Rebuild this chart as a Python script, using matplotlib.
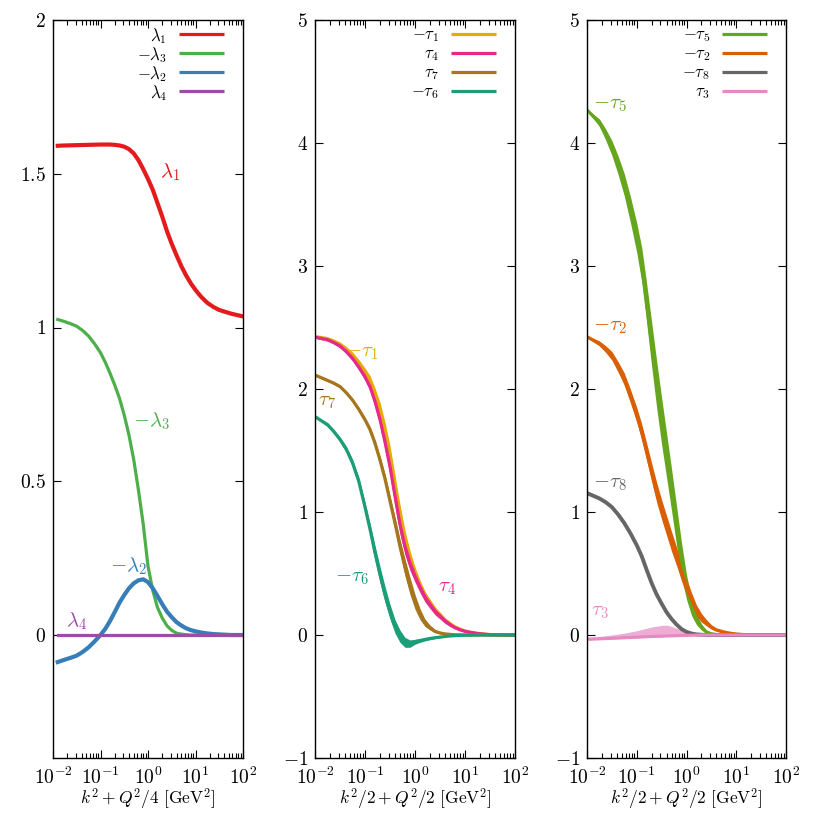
import matplotlib
matplotlib.use("Agg")
import matplotlib.pyplot as plt
import numpy as np
from matplotlib.ticker import FuncFormatter, LogLocator, NullFormatter

plt.rcParams['mathtext.fontset'] = 'cm'
plt.rcParams['font.family'] = 'serif'
plt.rcParams['font.serif'] = ['cmr10', 'DejaVu Serif']
plt.rcParams['axes.formatter.use_mathtext'] = True

# x-Gitter (GeV^2), 34 Punkte
x1 = [0.0126, 0.0178, 0.0237, 0.0316, 0.0422, 0.0562, 0.075, 0.1,
      0.126, 0.158, 0.2, 0.251, 0.316, 0.398, 0.501, 0.631, 0.794, 1.0,
      1.26, 1.58, 2.0, 2.51, 3.16, 3.98,
      5.01, 6.31, 7.94, 10, 13.3, 17.8, 23.7, 31.6, 56.2, 100]
x23 = [0.0105] + x1[1:]

# Panel 1: lambda_i
lam1 = [1.591, 1.592, 1.5925, 1.593, 1.5935, 1.594, 1.5945, 1.595,
        1.595, 1.595, 1.594, 1.592, 1.588, 1.58, 1.566, 1.544, 1.515, 1.483,
        1.448, 1.405, 1.36, 1.313, 1.272, 1.235,
        1.2, 1.17, 1.144, 1.122, 1.099, 1.08, 1.067, 1.057, 1.045, 1.036]
lam3 = [1.026, 1.019, 1.012, 1.004, 0.99, 0.972, 0.947, 0.918,
        0.887, 0.852, 0.812, 0.77, 0.715, 0.65, 0.57, 0.47, 0.36, 0.224,
        0.145, 0.09, 0.055, 0.03, 0.015, 0.006,
        0.003, 0.001, 0, 0, 0, 0, 0, 0, 0, 0]
lam2 = [-0.088, -0.08, -0.074, -0.067, -0.055, -0.04, -0.021, 0.0,
        0.02, 0.045, 0.075, 0.105, 0.13, 0.152, 0.168, 0.178, 0.181, 0.172,
        0.152, 0.127, 0.1, 0.076, 0.058, 0.042,
        0.031, 0.022, 0.016, 0.012, 0.008, 0.005, 0.003, 0.002, 0, 0]
lam4 = [0] * 34

# Panel 2: Bandmitte und halbe Breite
tau4 = [2.42, 2.40, 2.378, 2.35, 2.305, 2.25, 2.18, 2.10,
        2.02, 1.90, 1.75, 1.57, 1.37, 1.13, 0.90, 0.72, 0.585, 0.48,
        0.39, 0.31, 0.25, 0.195, 0.155, 0.115,
        0.085, 0.06, 0.043, 0.03, 0.02, 0.012, 0.007, 0.003, 0, 0]
tau4_w = [0.01, 0.01, 0.012, 0.015, 0.018, 0.02, 0.025, 0.03,
          0.035, 0.04, 0.05, 0.06, 0.07, 0.08, 0.08, 0.07, 0.06, 0.05,
          0.045, 0.04, 0.035, 0.03, 0.025, 0.02,
          0.016, 0.012, 0.009, 0.006, 0.004, 0.003, 0.002, 0.001, 0, 0]
tau1 = [2.425, 2.41, 2.39, 2.365, 2.325, 2.275, 2.21, 2.135,
        2.065, 1.955, 1.82, 1.65, 1.455, 1.215, 0.98, 0.785, 0.635, 0.515,
        0.415, 0.33, 0.268, 0.21, 0.167, 0.125,
        0.093, 0.066, 0.047, 0.033, 0.022, 0.0135, 0.008, 0.003, 0, 0]
tau1_w = [0.005, 0.01, 0.012, 0.015, 0.02, 0.025, 0.03, 0.035,
          0.045, 0.055, 0.07, 0.08, 0.085, 0.085, 0.08, 0.065, 0.05, 0.035,
          0.025, 0.02, 0.018, 0.015, 0.012, 0.01,
          0.008, 0.006, 0.004, 0.003, 0.002, 0.0015, 0.001, 0, 0, 0]
tau7 = [2.11, 2.07, 2.048, 2.02, 1.97, 1.91, 1.835, 1.75,
        1.67, 1.56, 1.42, 1.27, 1.09, 0.91, 0.72, 0.55, 0.40, 0.27,
        0.17, 0.10, 0.06, 0.03, 0.017, 0.009,
        0.005, 0.002, 0.001, 0, 0, 0, 0, 0, 0, 0]
tau7_w = [0.01, 0.01, 0.011, 0.012, 0.013, 0.015, 0.017, 0.02,
          0.025, 0.03, 0.035, 0.04, 0.045, 0.05, 0.06, 0.07, 0.07, 0.06,
          0.045, 0.03, 0.02, 0.012, 0.008, 0.005,
          0.003, 0.002, 0.001, 0, 0, 0, 0, 0, 0, 0]
tau6 = [1.77, 1.71, 1.655, 1.59, 1.51, 1.40, 1.25, 1.04,
        0.86, 0.67, 0.49, 0.33, 0.19, 0.07, -0.01, -0.06, -0.07, -0.055,
        -0.045, -0.036, -0.028, -0.022, -0.017, -0.012,
        -0.008, -0.005, -0.003, -0.002, -0.001, 0, 0, 0, 0, 0]
tau6_w = [0.01, 0.015, 0.017, 0.02, 0.025, 0.03, 0.035, 0.04,
          0.05, 0.06, 0.065, 0.065, 0.06, 0.055, 0.05, 0.04, 0.03, 0.02,
          0.015, 0.012, 0.01, 0.008, 0.006, 0.004,
          0.003, 0.002, 0.0015, 0.001, 0, 0, 0, 0, 0, 0]

# Panel 3
tau5 = [4.26, 4.165, 4.07, 3.96, 3.82, 3.66, 3.455, 3.23,
        3.01, 2.70, 2.36, 2.04, 1.74, 1.46, 1.18, 0.89, 0.61, 0.39,
        0.23, 0.13, 0.065, 0.025, 0.01, 0.004,
        0.002, 0.001, 0, 0, 0, 0, 0, 0, 0, 0]
tau5_w = [0.01, 0.03, 0.045, 0.06, 0.075, 0.09, 0.105, 0.12,
          0.14, 0.16, 0.18, 0.19, 0.19, 0.18, 0.17, 0.16, 0.14, 0.10,
          0.07, 0.045, 0.025, 0.012, 0.005, 0.002,
          0.001, 0, 0, 0, 0, 0, 0, 0, 0, 0]
tau2 = [2.42, 2.37, 2.325, 2.27, 2.18, 2.08, 1.94, 1.79,
        1.65, 1.49, 1.32, 1.16, 1.02, 0.89, 0.76, 0.64, 0.51, 0.39,
        0.29, 0.20, 0.14, 0.10, 0.065, 0.042,
        0.03, 0.02, 0.013, 0.008, 0.004, 0.002, 0.001, 0, 0, 0]
tau2_w = [0.01, 0.02, 0.027, 0.035, 0.042, 0.05, 0.055, 0.06,
          0.065, 0.07, 0.075, 0.08, 0.08, 0.08, 0.08, 0.075, 0.07, 0.065,
          0.055, 0.045, 0.035, 0.025, 0.018, 0.012,
          0.009, 0.006, 0.004, 0.003, 0.002, 0.001, 0, 0, 0, 0]
tau8 = [1.15, 1.11, 1.08, 1.04, 0.98, 0.91, 0.825, 0.73,
        0.64, 0.53, 0.42, 0.33, 0.255, 0.185, 0.13, 0.085, 0.048, 0.025,
        0.012, 0.005, 0.002, 0, 0, 0,
        0, 0, 0, 0, 0, 0, 0, 0, 0, 0]
tau3_lo = [-0.035, -0.031, -0.029, -0.027, -0.025, -0.022, -0.02, -0.018,
           -0.016, -0.014, -0.012, -0.011, -0.01, -0.008, -0.007, -0.005, -0.004, -0.003,
           -0.002, -0.001, 0, 0, 0, 0,
           0, 0, 0, 0, 0, 0, 0, 0, 0, 0]
tau3_hi = [-0.02, -0.012, -0.006, 0.0, 0.007, 0.015, 0.025, 0.035,
           0.045, 0.055, 0.065, 0.072, 0.078, 0.08, 0.07, 0.055, 0.035, 0.02,
           0.01, 0.005, 0.002, 0.001, 0, 0,
           0, 0, 0, 0, 0, 0, 0, 0, 0, 0]

fig = plt.figure(figsize=(8.14, 8.14), dpi=100)
ax1 = fig.add_axes([53 / 814, 56 / 814, 190 / 814, 738 / 814])
ax2 = fig.add_axes([315 / 814, 56 / 814, 200 / 814, 738 / 814])
ax3 = fig.add_axes([587 / 814, 56 / 814, 199 / 814, 738 / 814])

fs_tick = 14
fs_lab = 12.5
fs_leg = 12
fs_ann = 15
lw = 2.3


def band(ax, x, c, w, color):
    c = np.array(c)
    w = np.array(w)
    ax.fill_between(x, c - w, c + w, color=color, lw=0)
    ax.plot(x, c, color=color, lw=lw)


def note(ax, x, y, s, color):
    ax.text(x, y, s, color=color, fontsize=fs_ann, ha='center', va='center')


def key(ax, width_px, entries):
    # Legende von Hand: Text rechtsbuendig, Linie rechts daneben
    for i, (lab, col) in enumerate(entries):
        y = 1 - (14 + 19 * i) / 738
        ax.plot([1 - 64 / width_px, 1 - 19 / width_px], [y, y], color=col, lw=2.3,
                transform=ax.transAxes, clip_on=False, solid_capstyle='butt')
        ax.text(1 - 76 / width_px, y - 2 / 738, lab, fontsize=fs_leg, ha='right',
                va='center', transform=ax.transAxes)


# Panel 1
ax1.plot(x1, lam1, color='#e41a1c', lw=3.0)
ax1.plot(x1, lam3, color='#4daf4a', lw=lw)
ax1.plot(x1, lam2, color='#377eb8', lw=3.0)
ax1.plot(x1, lam4, color='#984ea3', lw=lw)
key(ax1, 190, [(r'$\lambda_1$', '#e41a1c'), (r'$-\lambda_3$', '#4daf4a'),
               (r'$-\lambda_2$', '#377eb8'), (r'$\lambda_4$', '#984ea3')])
note(ax1, 2.9, 1.506, r'$\lambda_{\mathbf{1}}$', '#e41a1c')
note(ax1, 1.2, 0.695, r'$-\lambda_{\mathbf{3}}$', '#4daf4a')
note(ax1, 0.38, 0.224, r'$-\lambda_{\mathbf{2}}$', '#377eb8')
note(ax1, 0.032, 0.045, r'$\lambda_{\mathbf{4}}$', '#984ea3')
ax1.set_ylim(-0.4, 2)
ax1.set_yticks([0, 0.5, 1, 1.5, 2])
ax1.set_xlabel(r'$k^2 + Q^2/4\ [\mathrm{GeV}^2]$', fontsize=fs_lab, labelpad=-1)

# Panel 2
band(ax2, x23, tau1, tau1_w, '#e6ab02')
band(ax2, x23, tau4, tau4_w, '#e7298a')
band(ax2, x23, tau7, tau7_w, '#a6761d')
band(ax2, x23, tau6, tau6_w, '#1b9e77')
key(ax2, 200, [(r'$-\tau_1$', '#e6ab02'), (r'$\tau_4$', '#e7298a'),
               (r'$\tau_7$', '#a6761d'), (r'$-\tau_6$', '#1b9e77')])
note(ax2, 0.087, 2.29, r'$-\tau_{\mathbf{1}}$', '#e6ab02')
note(ax2, 0.0175, 1.89, r'$\tau_{\mathbf{7}}$', '#a6761d')
note(ax2, 0.055, 0.46, r'$-\tau_{\mathbf{6}}$', '#1b9e77')
note(ax2, 4.4, 0.38, r'$\tau_{\mathbf{4}}$', '#e7298a')
ax2.set_xlabel(r'$k^2/2 + Q^2/2\ [\mathrm{GeV}^2]$', fontsize=fs_lab, labelpad=-1)

# Panel 3
band(ax3, x23, tau5, tau5_w, '#66a61e')
band(ax3, x23, tau2, tau2_w, '#d95f02')
ax3.plot(x23, tau8, color='#666666', lw=2.8)
ax3.fill_between(x23, tau3_lo, tau3_hi, color='#e78ac3', lw=0, alpha=0.7)
ax3.plot(x23, tau3_lo, color='#e78ac3', lw=lw)
key(ax3, 199, [(r'$-\tau_5$', '#66a61e'), (r'$-\tau_2$', '#d95f02'),
               (r'$-\tau_8$', '#666666'), (r'$\tau_3$', '#e78ac3')])
note(ax3, 0.029, 4.31, r'$-\tau_{\mathbf{5}}$', '#66a61e')
note(ax3, 0.029, 2.50, r'$-\tau_{\mathbf{2}}$', '#d95f02')
note(ax3, 0.029, 1.23, r'$-\tau_{\mathbf{8}}$', '#666666')
note(ax3, 0.018, 0.19, r'$\tau_{\mathbf{3}}$', '#e78ac3')
ax3.set_xlabel(r'$k^2/2 + Q^2/2\ [\mathrm{GeV}^2]$', fontsize=fs_lab, labelpad=-1)

for ax in (ax2, ax3):
    ax.set_ylim(-1, 5)
    ax.set_yticks([-1, 0, 1, 2, 3, 4, 5])

yfmt = FuncFormatter(lambda v, p: f'${v:g}$')
for ax in (ax1, ax2, ax3):
    ax.set_xscale('log')
    ax.set_xlim(1e-2, 1e2)
    ax.xaxis.set_major_locator(LogLocator(base=10, numticks=10))
    ax.xaxis.set_minor_locator(LogLocator(base=10, subs=np.arange(2, 10), numticks=10))
    ax.xaxis.set_minor_formatter(NullFormatter())
    ax.yaxis.set_major_formatter(yfmt)
    ax.tick_params(which='both', direction='in', top=True, right=True, labelsize=fs_tick)
    ax.tick_params(which='major', length=6, width=0.8)
    ax.tick_params(axis='y', which='major', pad=5)
    ax.tick_params(axis='x', which='major', pad=6)
    ax.tick_params(which='minor', length=3.5, width=0.8)
    for s in ax.spines.values():
        s.set_linewidth(1.0)

fig.savefig('out.png', dpi=100)
